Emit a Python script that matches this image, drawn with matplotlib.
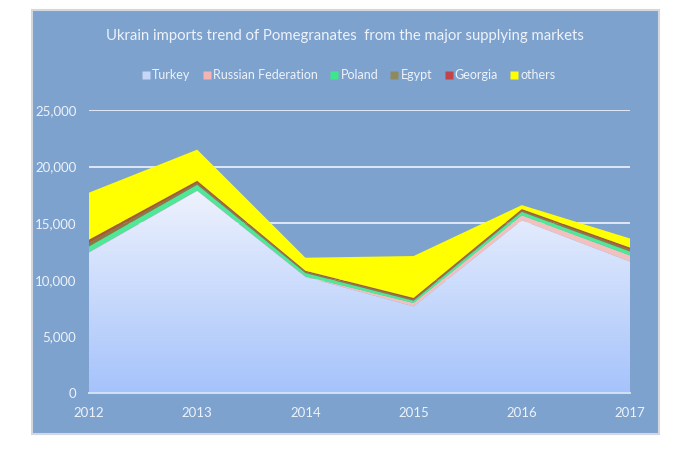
import matplotlib
matplotlib.use("Agg")
import matplotlib.pyplot as plt
import numpy as np
from matplotlib.patches import Rectangle, PathPatch
from matplotlib.lines import Line2D
from matplotlib.colors import LinearSegmentedColormap

years = [2012, 2013, 2014, 2015, 2016, 2017]
series_names = ["Turkey", "Russian Federation", "Poland", "Egypt", "Georgia", "others"]
turkey = [12400, 17850, 10250, 7650, 15250, 11600]
russia = [50, 50, 50, 300, 450, 550]
poland = [500, 500, 300, 200, 300, 350]
egypt = [300, 150, 100, 100, 100, 150]
georgia = [300, 200, 100, 150, 150, 200]
others = [4150, 2750, 1150, 3700, 350, 800]
yticks = [0, 5000, 10000, 15000, 20000, 25000]
title = "Ukrain imports trend of Pomegranates  from the major supplying markets"

plt.rcParams["font.family"] = ["Lato", "DejaVu Sans"]

W, H = 695, 450
fig = plt.figure(figsize=(W / 100, H / 100), dpi=100)
fig.patch.set_facecolor("white")

panel_col = "#7da2cd"
txt_col = "#eef3fb"
fig.patches.append(Rectangle((32 / W, 1 - 434 / H), (659 - 32) / W, (434 - 10) / H,
                             transform=fig.transFigure, facecolor=panel_col,
                             edgecolor="#d3d8e0", linewidth=1.5, zorder=-5))

ax = fig.add_axes([89 / W, 1 - 393 / H, (630 - 89) / W, (393 - 110) / H])
ax.set_facecolor("none")
ax.set_zorder(1)

layer_cols = ["#c8d8f8", "#f3c0c0", "#4ee896", "#8c7a3c", "#a85a30", "#ffff00"]
polys = ax.stackplot(years, turkey, russia, poland, egypt, georgia, others,
                     colors=layer_cols, linewidth=0, zorder=2)

# gradient fill for Turkey layer
p0 = polys[0]
p0.set_facecolor("none")
clip = PathPatch(p0.get_paths()[0], transform=ax.transData, facecolor="none", edgecolor="none")
ax.add_patch(clip)
grad = np.linspace(0, 1, 256).reshape(-1, 1)
cmap = LinearSegmentedColormap.from_list("g", ["#a5c3fb", "#eef2fd"])
im = ax.imshow(grad, cmap=cmap, aspect="auto", origin="lower",
               extent=[years[0], years[-1], 0, max(turkey)], zorder=2)
im.set_clip_path(clip)

ax.set_xlim(years[0], years[-1])
ax.set_ylim(0, 25000)
ax.set_yticks(yticks)
ax.set_yticklabels([f"{v:,}" for v in yticks])
ax.set_xticks(years)
ax.set_xticklabels([str(y) for y in years])
ax.tick_params(length=0, colors=txt_col, labelsize=9.5)
ax.tick_params(axis="y", pad=9)
ax.tick_params(axis="x", pad=10)
ax.grid(axis="y", color="#dfe7f3", linewidth=1.4, zorder=1)
ax.set_axisbelow(True)
for s in ["top", "right", "left"]:
    ax.spines[s].set_visible(False)
ax.spines["bottom"].set_color("#d5e0f2")
ax.spines["bottom"].set_linewidth(1.4)
ax.spines["bottom"].set_zorder(3)

fig.text(344.5 / W, 1 - 36 / H, title, ha="center", va="center",
         color=txt_col, fontsize=10.7)

leg_cols = ["#c5d6f6", "#f4b4b4", "#3ee88a", "#8f8a5e", "#c0444a", "#ffff00"]
handles = [Line2D([], [], marker="s", linestyle="none", markersize=6,
                  markerfacecolor=c, markeredgecolor="none") for c in leg_cols]
fig.legend(handles, series_names, loc="center", bbox_to_anchor=(349 / W, 1 - 75 / H),
           ncol=6, frameon=False, handlelength=0.6, handletextpad=0.2,
           columnspacing=1.0, fontsize=9, labelcolor=txt_col)

fig.savefig("out.png", dpi=100, facecolor="white")
